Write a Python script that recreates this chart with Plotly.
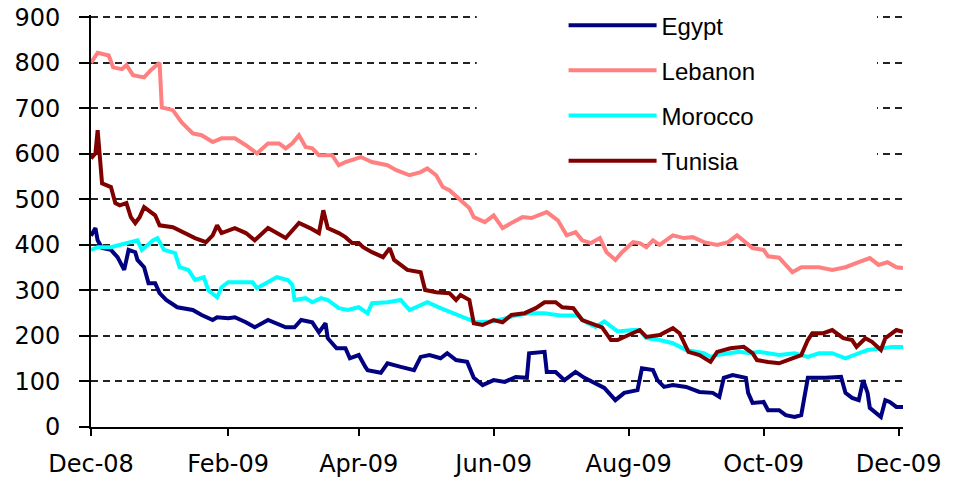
import plotly.graph_objects as go

egypt_dates = ["2008-12-01", "2008-12-03", "2008-12-04", "2008-12-06", "2008-12-10", "2008-12-13", "2008-12-16",
               "2008-12-18", "2008-12-21", "2008-12-22", "2008-12-25", "2008-12-27", "2008-12-30", "2009-01-01",
               "2009-01-04", "2009-01-09", "2009-01-16", "2009-01-20", "2009-01-25", "2009-01-27", "2009-02-01",
               "2009-02-04", "2009-02-09", "2009-02-13", "2009-02-19", "2009-02-27", "2009-03-03", "2009-03-06",
               "2009-03-11", "2009-03-14", "2009-03-17", "2009-03-18", "2009-03-22", "2009-03-26", "2009-03-28",
               "2009-04-01", "2009-04-04", "2009-04-05", "2009-04-11", "2009-04-14", "2009-04-20", "2009-04-26",
               "2009-04-29", "2009-05-03", "2009-05-08", "2009-05-11", "2009-05-15", "2009-05-20", "2009-05-23",
               "2009-05-27", "2009-06-01", "2009-06-06", "2009-06-11", "2009-06-16", "2009-06-17", "2009-06-24",
               "2009-06-25", "2009-06-29", "2009-07-03", "2009-07-08", "2009-07-12", "2009-07-17", "2009-07-21",
               "2009-07-26", "2009-07-30", "2009-08-05", "2009-08-07", "2009-08-12", "2009-08-14", "2009-08-17",
               "2009-08-21", "2009-08-27", "2009-09-02", "2009-09-08", "2009-09-11", "2009-09-13", "2009-09-17",
               "2009-09-23", "2009-09-24", "2009-09-26", "2009-10-01", "2009-10-03", "2009-10-08", "2009-10-11",
               "2009-10-15", "2009-10-18", "2009-10-20", "2009-10-21", "2009-10-29", "2009-11-05", "2009-11-07",
               "2009-11-10", "2009-11-13", "2009-11-15", "2009-11-17", "2009-11-18", "2009-11-23", "2009-11-25",
               "2009-11-27", "2009-11-30", "2009-12-03"]
egypt_values = [420, 437, 410, 393, 389, 373, 345,
                389, 384, 367, 351, 316, 316, 294,
                279, 263, 257, 246, 235, 241, 239,
                241, 230, 219, 235, 219, 219, 235,
                230, 208, 228, 195, 173, 173, 151,
                158, 132, 125, 119, 140, 132, 125,
                154, 158, 151, 162, 147, 143, 108,
                92, 103, 99, 110, 108, 162, 165,
                121, 121, 103, 121, 108, 97, 86,
                59, 75, 81, 129, 125, 103, 88,
                92, 88, 77, 75, 66, 108, 114,
                108, 75, 53, 55, 37, 37, 26,
                22, 26, 88, 108, 108, 110, 75,
                64, 59, 103, 75, 42, 22, 59,
                55, 44, 44]

lebanon_dates = ["2008-12-01", "2008-12-04", "2008-12-09", "2008-12-11", "2008-12-15", "2008-12-17", "2008-12-20",
                 "2008-12-25", "2008-12-28", "2009-01-01", "2009-01-02", "2009-01-07", "2009-01-11", "2009-01-16",
                 "2009-01-20", "2009-01-25", "2009-01-29", "2009-02-04", "2009-02-09", "2009-02-14", "2009-02-19",
                 "2009-02-24", "2009-02-27", "2009-03-02", "2009-03-05", "2009-03-08", "2009-03-11", "2009-03-14",
                 "2009-03-20", "2009-03-23", "2009-03-26", "2009-04-02", "2009-04-07", "2009-04-14", "2009-04-18",
                 "2009-04-24", "2009-04-29", "2009-05-02", "2009-05-06", "2009-05-09", "2009-05-12", "2009-05-17",
                 "2009-05-21", "2009-05-23", "2009-05-28", "2009-06-01", "2009-06-05", "2009-06-09", "2009-06-14",
                 "2009-06-18", "2009-06-25", "2009-06-30", "2009-07-04", "2009-07-08", "2009-07-11", "2009-07-15",
                 "2009-07-19", "2009-07-22", "2009-07-26", "2009-07-29", "2009-08-03", "2009-08-06", "2009-08-09",
                 "2009-08-12", "2009-08-15", "2009-08-21", "2009-08-26", "2009-08-30", "2009-09-04", "2009-09-10",
                 "2009-09-15", "2009-09-19", "2009-09-23", "2009-09-26", "2009-10-01", "2009-10-03", "2009-10-08",
                 "2009-10-11", "2009-10-14", "2009-10-18", "2009-10-26", "2009-11-01", "2009-11-07", "2009-11-13",
                 "2009-11-18", "2009-11-22", "2009-11-26", "2009-11-30", "2009-12-03"]
lebanon_values = [800, 822, 816, 790, 786, 795, 773,
                  768, 784, 800, 702, 696, 669, 645,
                  641, 626, 634, 634, 619, 601, 623,
                  623, 612, 623, 641, 615, 612, 597,
                  597, 575, 582, 593, 582, 575, 564,
                  553, 560, 568, 553, 527, 520, 498,
                  481, 461, 450, 465, 437, 448, 461,
                  459, 472, 454, 421, 428, 410, 404,
                  415, 384, 367, 384, 406, 404, 395,
                  410, 400, 421, 415, 417, 406, 400,
                  406, 421, 406, 393, 389, 375, 372,
                  355, 340, 351, 351, 345, 351, 362,
                  371, 356, 362, 351, 349]

morocco_dates = ["2008-12-01", "2008-12-04", "2008-12-10", "2008-12-18", "2008-12-22", "2008-12-24", "2008-12-29",
                 "2008-12-31", "2009-01-03", "2009-01-08", "2009-01-10", "2009-01-14", "2009-01-17", "2009-01-21",
                 "2009-01-23", "2009-01-27", "2009-01-29", "2009-02-01", "2009-02-12", "2009-02-14", "2009-02-19",
                 "2009-02-23", "2009-02-28", "2009-03-02", "2009-03-03", "2009-03-08", "2009-03-11", "2009-03-15",
                 "2009-03-18", "2009-03-23", "2009-03-27", "2009-04-01", "2009-04-05", "2009-04-07", "2009-04-14",
                 "2009-04-20", "2009-04-24", "2009-05-02", "2009-05-08", "2009-05-14", "2009-05-20", "2009-05-24",
                 "2009-06-01", "2009-06-05", "2009-06-11", "2009-06-17", "2009-06-24", "2009-07-01", "2009-07-09",
                 "2009-07-12", "2009-07-17", "2009-07-21", "2009-07-27", "2009-08-03", "2009-08-06", "2009-08-09",
                 "2009-08-15", "2009-08-21", "2009-08-24", "2009-08-27", "2009-09-04", "2009-09-07", "2009-09-10",
                 "2009-09-15", "2009-09-20", "2009-09-25", "2009-09-29", "2009-10-08", "2009-10-15", "2009-10-21",
                 "2009-10-26", "2009-11-01", "2009-11-07", "2009-11-13", "2009-11-17", "2009-11-24", "2009-11-28",
                 "2009-12-03"]
morocco_values = [389, 395, 395, 404, 410, 389, 410,
                  415, 389, 382, 351, 345, 323, 329,
                  301, 285, 307, 318, 318, 305, 318,
                  329, 323, 312, 279, 283, 274, 283,
                  279, 261, 257, 263, 250, 272, 274,
                  279, 257, 274, 261, 250, 239, 230,
                  232, 238, 245, 250, 250, 245, 245,
                  232, 220, 232, 210, 213, 213, 195,
                  191, 184, 176, 169, 162, 154, 158,
                  162, 165, 162, 165, 158, 162, 154,
                  162, 162, 151, 162, 169, 173, 176,
                  176]

tunisia_dates = ["2008-12-01", "2008-12-03", "2008-12-04", "2008-12-05", "2008-12-06", "2008-12-10", "2008-12-12",
                 "2008-12-14", "2008-12-17", "2008-12-19", "2008-12-21", "2008-12-23", "2008-12-25", "2008-12-30",
                 "2009-01-01", "2009-01-07", "2009-01-12", "2009-01-17", "2009-01-22", "2009-01-25", "2009-01-27",
                 "2009-01-29", "2009-02-04", "2009-02-09", "2009-02-13", "2009-02-19", "2009-02-27", "2009-03-05",
                 "2009-03-10", "2009-03-14", "2009-03-16", "2009-03-18", "2009-03-23", "2009-03-26", "2009-03-29",
                 "2009-04-01", "2009-04-03", "2009-04-07", "2009-04-12", "2009-04-15", "2009-04-17", "2009-04-23",
                 "2009-04-29", "2009-05-01", "2009-05-06", "2009-05-12", "2009-05-15", "2009-05-17", "2009-05-21",
                 "2009-05-23", "2009-05-27", "2009-06-01", "2009-06-05", "2009-06-09", "2009-06-15", "2009-06-20",
                 "2009-06-24", "2009-06-29", "2009-07-02", "2009-07-07", "2009-07-11", "2009-07-15", "2009-07-20",
                 "2009-07-24", "2009-07-27", "2009-08-01", "2009-08-06", "2009-08-09", "2009-08-15", "2009-08-21",
                 "2009-08-24", "2009-08-28", "2009-09-02", "2009-09-07", "2009-09-10", "2009-09-16", "2009-09-22",
                 "2009-09-26", "2009-09-28", "2009-10-03", "2009-10-08", "2009-10-14", "2009-10-18", "2009-10-21",
                 "2009-10-23", "2009-10-28", "2009-11-01", "2009-11-06", "2009-11-10", "2009-11-12", "2009-11-16",
                 "2009-11-19", "2009-11-23", "2009-11-25", "2009-11-30", "2009-12-03"]
tunisia_values = [590, 601, 652, 593, 535, 527, 492,
                  487, 492, 461, 448, 461, 483, 465,
                  443, 439, 426, 415, 406, 421, 443,
                  426, 437, 426, 410, 437, 415, 448,
                  437, 426, 476, 437, 426, 417, 404,
                  404, 395, 384, 373, 393, 367, 345,
                  340, 301, 296, 294, 279, 290, 279,
                  228, 224, 235, 230, 246, 250, 261,
                  274, 274, 263, 261, 235, 228, 219,
                  191, 191, 202, 213, 198, 202, 217,
                  206, 165, 158, 143, 165, 173, 176,
                  162, 147, 143, 140, 151, 158, 191,
                  206, 206, 213, 195, 191, 176, 195,
                  187, 169, 195, 213, 209]

series_names = ["Egypt", "Lebanon", "Morocco", "Tunisia"]
series_colors = ["#000080", "#FF8080", "#00FFFF", "#800000"]
series_dates = [egypt_dates, lebanon_dates, morocco_dates, tunisia_dates]
series_values = [egypt_values, lebanon_values, morocco_values, tunisia_values]

y_ticks = [0, 100, 200, 300, 400, 500, 600, 700, 800, 900]

fig = go.Figure()
for name, color, d, v in zip(series_names, series_colors, series_dates, series_values):
    fig.add_trace(go.Scatter(x=d, y=v, mode="lines", name=name, legendgroup=name,
                             line=dict(color=color, width=4)))

tick_font = dict(family="DejaVu Sans, Verdana, sans-serif", size=24, color="black")

fig.update_layout(
    width=959, height=481,
    margin=dict(l=91, r=56, t=15, b=54, autoexpand=False),
    plot_bgcolor="white", paper_bgcolor="white",
    showlegend=True,
    legend=dict(x=0.582, y=1.029, xanchor="left", yanchor="top",
                bgcolor="rgba(0,0,0,0)", borderwidth=0,
                font=dict(family="Liberation Sans, Arial, sans-serif", size=24, color="black"),
                tracegroupgap=11, itemwidth=88),
    # white panel behind the legend (hides the gridlines there, as in the original)
    shapes=[dict(type="rect", xref="paper", yref="paper", x0=0.475, x1=0.968, y0=0.62, y1=1.02,
                 fillcolor="white", line=dict(width=0), layer="above")],
)
fig.update_xaxes(type="date", range=["2008-12-01", "2009-12-03"], tick0="2008-12-01", dtick="M2",
                 tickformat="%b-%y", showline=True, linecolor="black", linewidth=2,
                 ticks="outside", ticklen=7, tickwidth=2, tickcolor="black", showgrid=False,
                 zeroline=False, tickfont=tick_font, ticklabelstandoff=7, automargin=False,
                 ticklabeloverflow="allow")
fig.update_yaxes(range=[0, 905], tickvals=y_ticks, showline=True, linecolor="black", linewidth=2,
                 ticks="outside", ticklen=10, tickwidth=2, tickcolor="black",
                 showgrid=True, gridcolor="#222222", gridwidth=1.5, griddash="7px,5px",
                 zeroline=False, tickfont=tick_font, ticklabelstandoff=14, automargin=False,
                 ticklabeloverflow="allow")

fig.write_html("out.html", config={"displayModeBar": False},
               post_script="document.body.style.margin='0';")
